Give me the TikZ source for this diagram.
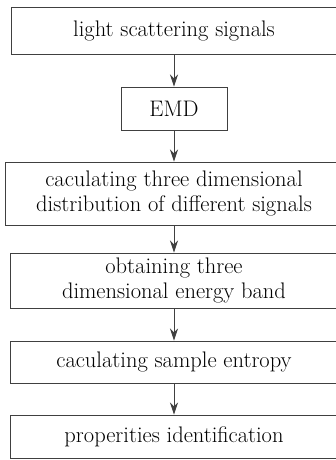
\documentclass[tikz,border=0pt]{standalone}
\usepackage{fontspec}
\setmainfont{Latin Modern Roman}
\usetikzlibrary{arrows.meta}
\begin{document}
\begin{tikzpicture}[x=1pt,y=-1pt,
  stepbox/.style={draw=black!75, line width=0.95pt, inner sep=0pt, align=center,
    font=\fontsize{22.5}{25.5}\selectfont, text=black},
  flow/.style={draw=black!75, line width=0.95pt, -{Stealth[length=12pt,width=8pt]}}]
  \useasboundingbox (0,0) rectangle (335,460);
  \node[stepbox, minimum width=326pt, minimum height=47pt] (s1) at (174,30.5) {light scattering signals};
  \node[stepbox, minimum width=106pt, minimum height=43pt] (s2) at (174,108.5) {EMD};
  \node[stepbox, minimum width=338pt, minimum height=63pt] (s3) at (174,193.5) {caculating three dimensional\\distribution of different signals};
  \node[stepbox, minimum width=328pt, minimum height=55pt] (s4) at (174,280.5) {obtaining three\\dimensional energy band};
  \node[stepbox, minimum width=328pt, minimum height=42pt] (s5) at (174,362) {caculating sample entropy};
  \node[stepbox, minimum width=328pt, minimum height=43pt] (s6) at (174,436.5) {properities identification};
  \draw[flow] (s1) -- (s2);
  \draw[flow] (s2) -- (s3);
  \draw[flow] (s3) -- (s4);
  \draw[flow] (s4) -- (s5);
  \draw[flow] (s5) -- (s6);
\end{tikzpicture}
\end{document}
